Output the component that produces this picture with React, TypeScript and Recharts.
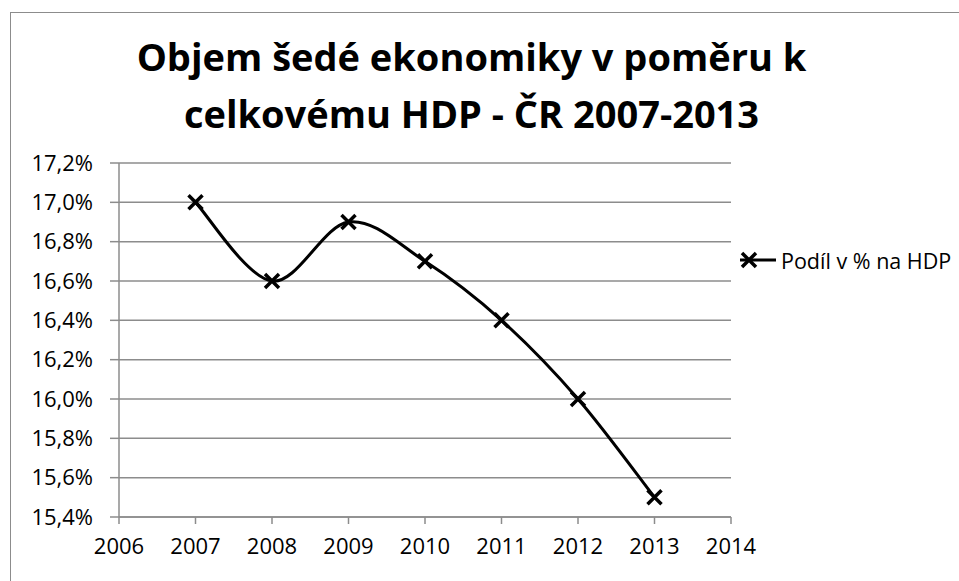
import React from 'react';
import { LineChart, Line, XAxis, YAxis, CartesianGrid } from 'recharts';

const years = [2007, 2008, 2009, 2010, 2011, 2012, 2013];
const shares = [17.0, 16.6, 16.9, 16.7, 16.4, 16.0, 15.5];
const xTicks = [2006, 2007, 2008, 2009, 2010, 2011, 2012, 2013, 2014];
const yTicks = [15.4, 15.6, 15.8, 16.0, 16.2, 16.4, 16.6, 16.8, 17.0, 17.2];
const titleLines = ['Objem šedé ekonomiky v poměru k', 'celkovému HDP - ČR 2007-2013'];
const seriesName = 'Podíl v % na HDP';

const data = years.map((year, i) => ({ year, share: shares[i] }));

const FONT = '"Open Sans", sans-serif';
const GRID = '#8c8c8c';

// Excel-like smoothed line (Catmull-Rom through the points)
function smoothCurve(context: any) {
  let pts: [number, number][] = [];
  return {
    areaStart() {},
    areaEnd() {},
    lineStart() {
      pts = [];
    },
    point(x: number, y: number) {
      pts.push([+x, +y]);
    },
    lineEnd() {
      if (!pts.length) return;
      context.moveTo(pts[0][0], pts[0][1]);
      for (let i = 0; i < pts.length - 1; i++) {
        const p0 = pts[i - 1] || pts[i];
        const p1 = pts[i];
        const p2 = pts[i + 1];
        const p3 = pts[i + 2] || p2;
        context.bezierCurveTo(
          p1[0] + (p2[0] - p0[0]) / 6,
          p1[1] + (p2[1] - p0[1]) / 6,
          p2[0] - (p3[0] - p1[0]) / 6,
          p2[1] - (p3[1] - p1[1]) / 6,
          p2[0],
          p2[1]
        );
      }
    },
  };
}

const Cross = ({ cx, cy, s = 7 }: { cx: number; cy: number; s?: number }) => (
  <path
    d={`M${cx - s},${cy - s}L${cx + s},${cy + s}M${cx - s},${cy + s}L${cx + s},${cy - s}`}
    stroke="#000"
    strokeWidth={3.5}
    fill="none"
  />
);

const fmtPct = (v: number) => `${v.toFixed(1).replace('.', ',')}%`;

export default function App() {
  return (
    <div style={{ position: 'absolute', left: 0, top: 0, width: 959, height: 581, background: '#fff', overflow: 'hidden', fontFamily: FONT }}>
      <div style={{ position: 'absolute', left: 10, top: 12, width: 960, height: 580, border: `1.5px solid ${GRID}`, boxSizing: 'border-box' }} />
      <div
        style={{
          position: 'absolute',
          left: 0,
          top: 28,
          width: 943,
          textAlign: 'center',
          fontWeight: 700,
          fontSize: 38,
          lineHeight: '57px',
          color: '#000',
        }}
      >
        {titleLines.map((t) => (
          <div key={t}>{t}</div>
        ))}
      </div>
      <LineChart
        width={959}
        height={581}
        data={data}
        margin={{ top: 163, right: 228, bottom: 24, left: 19 }}
        style={{ position: 'absolute', left: 0, top: 0 }}
      >
        <CartesianGrid horizontal vertical={false} stroke={GRID} strokeWidth={1.5} />
        <XAxis
          dataKey="year"
          type="number"
          domain={[2006, 2014]}
          ticks={xTicks}
          height={40}
          stroke={GRID}
          strokeWidth={1.5}
          tickSize={7}
          tickMargin={14}
          tick={{ fill: '#000', fontSize: 22, fontFamily: FONT }}
          interval={0}
        />
        <YAxis
          type="number"
          domain={[15.4, 17.2]}
          ticks={yTicks}
          width={100}
          stroke={GRID}
          strokeWidth={1.5}
          tickSize={9}
          tickMargin={17}
          tickFormatter={fmtPct}
          tick={{ fill: '#000', fontSize: 22, fontFamily: FONT }}
          interval={0}
        />
        <Line
          dataKey="share"
          name={seriesName}
          type={smoothCurve as any}
          stroke="#000"
          strokeWidth={3}
          dot={(p: any) => <Cross key={p.index} cx={p.cx} cy={p.cy} />}
          activeDot={false}
          isAnimationActive={false}
        />
      </LineChart>
      <div style={{ position: 'absolute', left: 738, top: 245, display: 'flex', alignItems: 'center', whiteSpace: 'nowrap', fontSize: 21.5 }}>
        <svg width={40} height={30}>
          <line x1={2} y1={15} x2={38} y2={15} stroke="#000" strokeWidth={3} />
          <Cross cx={11} cy={15} />
        </svg>
        <span style={{ marginLeft: 3 }}>{seriesName}</span>
      </div>
    </div>
  );
}
